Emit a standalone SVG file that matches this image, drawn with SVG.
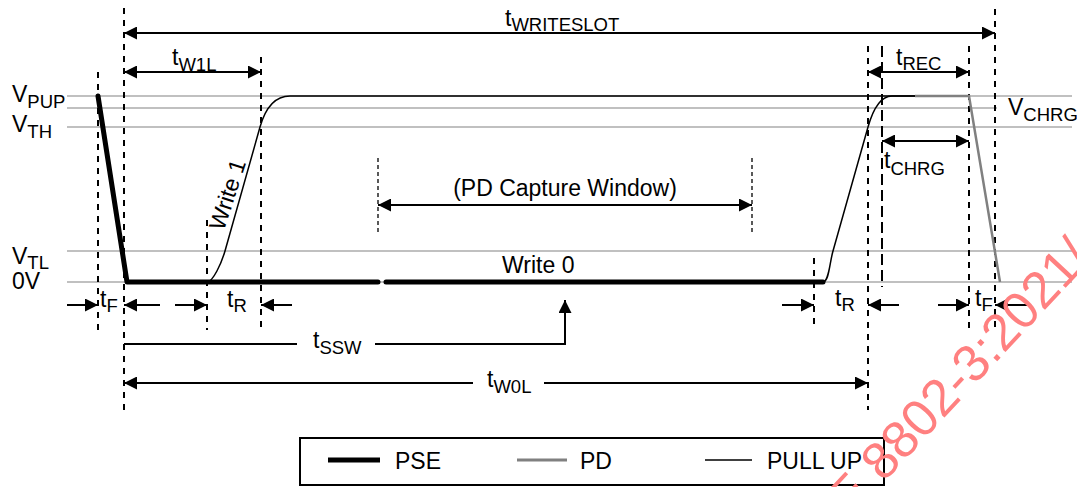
<svg xmlns="http://www.w3.org/2000/svg" width="1077" height="487" viewBox="0 0 1077 487">
<defs>
<marker id="ah" markerUnits="userSpaceOnUse" markerWidth="14" markerHeight="13" refX="13" refY="6.5" orient="auto-start-reverse"><path d="M0,0 L13,6.5 L0,13 Z" fill="#000"/></marker>
<style>
.ref{stroke:#c0c0c0;stroke-width:2;fill:none}
.dash{stroke:#000;stroke-width:2;stroke-dasharray:6 6;fill:none}
.dashL{stroke:#000;stroke-width:2;stroke-dasharray:11 5;fill:none}
.dashT{stroke:#000;stroke-width:1.3;stroke-dasharray:4 3;fill:none}
.dim{stroke:#000;stroke-width:2;fill:none}
.pse{stroke:#000;stroke-width:5;fill:none;stroke-linejoin:round;stroke-linecap:round}
.pd{stroke:#808080;stroke-width:2.5;fill:none}
.pu{stroke:#000;stroke-width:1.5;fill:none}
text{font-family:"Liberation Sans",Arial,sans-serif;font-size:23px;fill:#000}
.sub{font-size:18.5px}
.wm{fill:#ff8080;font-size:52px}
</style>
</defs>

<g id="reference-levels">
<line class="ref" x1="67" y1="96" x2="1072" y2="96"/>
<line class="ref" x1="67" y1="108" x2="997" y2="108"/>
<line class="ref" x1="67" y1="127" x2="1072" y2="127"/>
<line class="ref" x1="67" y1="251" x2="1072" y2="251"/>
<line class="ref" x1="67" y1="282" x2="1072" y2="282"/>
</g>

<g id="level-labels">
<text x="12" y="102">V<tspan class="sub" dy="6">PUP</tspan></text>
<text x="12" y="132">V<tspan class="sub" dy="6">TH</tspan></text>
<text x="12" y="264">V<tspan class="sub" dy="5">TL</tspan></text>
<text x="12" y="289">0V</text>
<text x="1008" y="115">V<tspan class="sub" dy="6">CHRG</tspan></text>
</g>

<g id="time-markers">
<line class="dash" x1="98" y1="72" x2="98" y2="330"/>
<line class="dash" x1="124" y1="8" x2="124" y2="410"/>
<line class="dash" x1="207" y1="220" x2="207" y2="330"/>
<line class="dash" x1="261" y1="57" x2="261" y2="330"/>
<line class="dashT" x1="378" y1="158" x2="378" y2="235"/>
<line class="dashT" x1="752" y1="158" x2="752" y2="235"/>
<line class="dash" x1="814" y1="258" x2="814" y2="330"/>
<line class="dash" x1="868" y1="46" x2="868" y2="410"/>
<line class="dashL" x1="882" y1="46" x2="882" y2="287"/>
<line class="dash" x1="969" y1="46" x2="969" y2="330"/>
<line class="dash" x1="995" y1="9" x2="995" y2="330"/>
</g>

<g id="signals">
<path id="pse-signal" class="pse" d="M98,96 L127,282 L378,282 M386,282 L823,282"/>
<path id="pullup-write1" class="pu" d="M207,282 C213,282 221.5,263 225,251 L260,127 C264,113 272,96 290,96 L915,96"/>
<path id="pullup-recovery" class="pu" d="M823,282 C829,282 829.5,263 833,251 L868,127 C872,113 879,96 892,96 L915,96"/>
<path id="pd-signal" class="pd" d="M915,96 L969,96 L1000,282"/>
</g>

<g id="connectors">
<line class="dim" x1="124" y1="33" x2="995" y2="33" marker-start="url(#ah)" marker-end="url(#ah)"/>
<line class="dim" x1="124" y1="72" x2="261" y2="72" marker-start="url(#ah)" marker-end="url(#ah)"/>
<line class="dim" x1="868" y1="72" x2="969" y2="72" marker-start="url(#ah)" marker-end="url(#ah)"/>
<line class="dim" x1="882" y1="141" x2="969" y2="141" marker-start="url(#ah)" marker-end="url(#ah)"/>
<line class="dim" x1="378" y1="205" x2="752" y2="205" marker-start="url(#ah)" marker-end="url(#ah)"/>
<line class="dim" x1="67" y1="305" x2="98" y2="305" marker-end="url(#ah)"/>
<line class="dim" x1="160" y1="305" x2="124" y2="305" marker-end="url(#ah)"/>
<line class="dim" x1="175" y1="305" x2="207" y2="305" marker-end="url(#ah)"/>
<line class="dim" x1="292" y1="305" x2="261" y2="305" marker-end="url(#ah)"/>
<line class="dim" x1="782" y1="305" x2="814" y2="305" marker-end="url(#ah)"/>
<line class="dim" x1="899" y1="305" x2="868" y2="305" marker-end="url(#ah)"/>
<line class="dim" x1="938" y1="305" x2="969" y2="305" marker-end="url(#ah)"/>
<line class="dim" x1="1027" y1="305" x2="995" y2="305" marker-end="url(#ah)"/>
<path class="dim" d="M124,344 L297,344 M375,344 L565,344 L565,300" marker-end="url(#ah)"/>
<line class="dim" x1="473" y1="383" x2="124" y2="383" marker-end="url(#ah)"/>
<line class="dim" x1="544" y1="383" x2="868" y2="383" marker-end="url(#ah)"/>
</g>

<g id="timing-labels">
<text x="505" y="26">t<tspan class="sub" dy="5">WRITESLOT</tspan></text>
<text x="172" y="65">t<tspan class="sub" dy="6">W1L</tspan></text>
<text x="896" y="65">t<tspan class="sub" dy="5">REC</tspan></text>
<text x="884" y="168">t<tspan class="sub" dy="7">CHRG</tspan></text>
<text x="565" y="196" text-anchor="middle">(PD Capture Window)</text>
<text x="502" y="273">Write 0</text>
<text x="235" y="197" font-size="21" text-anchor="middle" transform="rotate(-72 235 197)">Write 1</text>
<text x="100" y="307">t<tspan class="sub" dy="5">F</tspan></text>
<text x="227" y="307">t<tspan class="sub" dy="5">R</tspan></text>
<text x="835" y="306">t<tspan class="sub" dy="5">R</tspan></text>
<text x="975" y="306">t<tspan class="sub" dy="5">F</tspan></text>
<text x="313" y="348">t<tspan class="sub" dy="6">SSW</tspan></text>
<text x="487" y="387">t<tspan class="sub" dy="6">W0L</tspan></text>
</g>

<g id="legend">
<rect x="300" y="438" width="584" height="47" fill="none" stroke="#000" stroke-width="2"/>
<line x1="328" y1="460" x2="380" y2="460" stroke="#000" stroke-width="5"/>
<text x="395" y="469">PSE</text>
<line x1="517" y1="460" x2="567" y2="460" stroke="#808080" stroke-width="3"/>
<text x="580" y="469">PD</text>
<line x1="705" y1="460" x2="752" y2="460" stroke="#000" stroke-width="1.5"/>
<text x="767" y="469">PULL UP</text>
</g>

<text class="wm" x="0" y="0" transform="translate(850 519) rotate(-47)">E 8802-3:2021/</text>
</svg>
